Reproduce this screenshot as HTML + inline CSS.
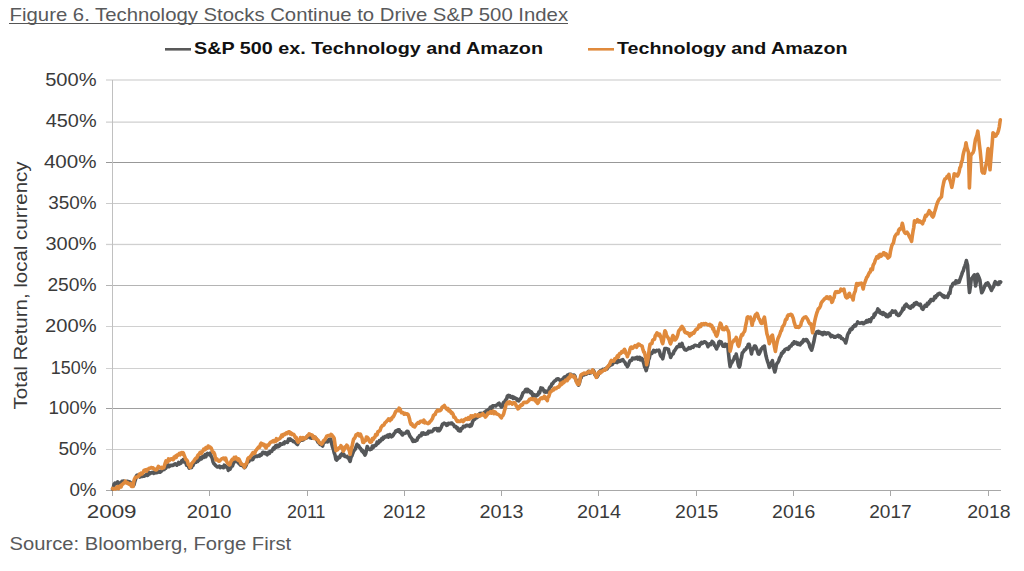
<!DOCTYPE html>
<html><head><meta charset="utf-8"><style>
html,body{margin:0;padding:0;background:#fff;}
svg{display:block;}
text{font-family:'Liberation Sans', sans-serif;}
</style></head><body>
<svg width="1024" height="571" viewBox="0 0 1024 571">
<rect width="1024" height="571" fill="#fff"/>
<text x="9.6" y="21" font-size="17.9" fill="#58595b" textLength="558.5" lengthAdjust="spacingAndGlyphs">Figure 6. Technology Stocks Continue to Drive S&amp;P 500 Index</text>
<rect x="9" y="23" width="559" height="1" fill="#555"/>
<rect x="165" y="48" width="26" height="2.6" fill="#595959"/>
<text x="194" y="54.3" font-size="16.3" font-weight="bold" fill="#111" textLength="349" lengthAdjust="spacingAndGlyphs">S&amp;P 500 ex. Technology and Amazon</text>
<rect x="588" y="48" width="26" height="2.6" fill="#e08a3c"/>
<text x="617" y="54.3" font-size="16.3" font-weight="bold" fill="#111" textLength="230.4" lengthAdjust="spacingAndGlyphs">Technology and Amazon</text>
<rect x="106" y="79.5" width="895" height="1" fill="#c8c8c8"/>
<rect x="106" y="121.6" width="895" height="1" fill="#c4c4c4"/>
<rect x="106" y="162" width="895" height="1" fill="#989898"/>
<rect x="106" y="203" width="895" height="1" fill="#cbcbcb"/>
<rect x="106" y="243.8" width="895" height="1.3" fill="#d0d0d0"/>
<rect x="106" y="285" width="895" height="1" fill="#b4b4b4"/>
<rect x="106" y="326" width="895" height="1" fill="#d0d0d0"/>
<rect x="106" y="368" width="895" height="1" fill="#d0d0d0"/>
<rect x="106" y="408" width="895" height="1" fill="#9e9e9e"/>
<rect x="106" y="449" width="895" height="1" fill="#cecece"/>
<rect x="106" y="490" width="895" height="1" fill="#a8a8a8"/>
<rect x="112" y="80" width="1" height="416" fill="#c0c0c0"/>
<rect x="112" y="490" width="1" height="6" fill="#a8a8a8"/>
<rect x="209" y="490" width="1" height="6" fill="#a8a8a8"/>
<rect x="307" y="490" width="1" height="6" fill="#a8a8a8"/>
<rect x="404" y="490" width="1" height="6" fill="#a8a8a8"/>
<rect x="501" y="490" width="1" height="6" fill="#a8a8a8"/>
<rect x="598" y="490" width="1" height="6" fill="#a8a8a8"/>
<rect x="696" y="490" width="1" height="6" fill="#a8a8a8"/>
<rect x="793" y="490" width="1" height="6" fill="#a8a8a8"/>
<rect x="890" y="490" width="1" height="6" fill="#a8a8a8"/>
<rect x="988" y="490" width="1" height="6" fill="#a8a8a8"/>
<g font-size="17.9" fill="#3a3a3a">
<text x="96.6" y="86.3" text-anchor="end" textLength="51.4" lengthAdjust="spacingAndGlyphs">500%</text>
<text x="96.6" y="127.3" text-anchor="end" textLength="50.9" lengthAdjust="spacingAndGlyphs">450%</text>
<text x="96.6" y="168.3" text-anchor="end" textLength="52.7" lengthAdjust="spacingAndGlyphs">400%</text>
<text x="96.6" y="209.3" text-anchor="end" textLength="48.4" lengthAdjust="spacingAndGlyphs">350%</text>
<text x="96.6" y="250.3" text-anchor="end" textLength="51.1" lengthAdjust="spacingAndGlyphs">300%</text>
<text x="96.6" y="291.3" text-anchor="end" textLength="49.2" lengthAdjust="spacingAndGlyphs">250%</text>
<text x="96.6" y="332.3" text-anchor="end" textLength="51.5" lengthAdjust="spacingAndGlyphs">200%</text>
<text x="96.6" y="374.3" text-anchor="end" textLength="45.8" lengthAdjust="spacingAndGlyphs">150%</text>
<text x="96.6" y="414.3" text-anchor="end" textLength="48.2" lengthAdjust="spacingAndGlyphs">100%</text>
<text x="96.6" y="455.3" text-anchor="end" textLength="38.2" lengthAdjust="spacingAndGlyphs">50%</text>
<text x="96.6" y="496.3" text-anchor="end" textLength="27.2" lengthAdjust="spacingAndGlyphs">0%</text>
</g>
<g font-size="17.9" fill="#3a3a3a">
<text x="86.7" y="518.2" textLength="49.9" lengthAdjust="spacingAndGlyphs">2009</text>
<text x="186.7" y="518.2" textLength="44.9" lengthAdjust="spacingAndGlyphs">2010</text>
<text x="287.1" y="518.2" textLength="38.4" lengthAdjust="spacingAndGlyphs">2011</text>
<text x="383.1" y="518.2" textLength="42.7" lengthAdjust="spacingAndGlyphs">2012</text>
<text x="479.6" y="518.2" textLength="44.0" lengthAdjust="spacingAndGlyphs">2013</text>
<text x="577.1" y="518.2" textLength="44.0" lengthAdjust="spacingAndGlyphs">2014</text>
<text x="675.1" y="518.2" textLength="43.2" lengthAdjust="spacingAndGlyphs">2015</text>
<text x="772.1" y="518.2" textLength="43.2" lengthAdjust="spacingAndGlyphs">2016</text>
<text x="869.2" y="518.2" textLength="42.5" lengthAdjust="spacingAndGlyphs">2017</text>
<text x="967.2" y="518.2" textLength="43.4" lengthAdjust="spacingAndGlyphs">2018</text>
</g>
<text transform="translate(27,285.4) rotate(-90)" x="0" y="0" text-anchor="middle" font-size="17.8" fill="#3a3a3a" textLength="248" lengthAdjust="spacingAndGlyphs">Total Return, local currency</text>
<text x="9.6" y="549.8" font-size="18" fill="#58595b" textLength="281.5" lengthAdjust="spacingAndGlyphs">Source: Bloomberg, Forge First</text>
<polyline fill="none" stroke="#555759" stroke-width="3.6" stroke-linejoin="round" stroke-linecap="round" points="112.6,489.2 113.3,487.9 114.0,484.3 114.8,483.2 115.5,483.9 116.5,482.9 117.5,481.9 118.5,482.5 119.4,484.8 120.2,484.0 121.1,483.2 122.0,481.4 122.8,481.3 123.7,481.0 124.5,481.6 125.3,482.0 126.2,481.7 127.0,481.2 127.9,481.6 128.8,481.8 129.6,481.8 130.4,482.6 131.3,484.7 132.2,485.2 133.0,486.2 133.9,485.0 134.8,481.6 135.6,479.2 136.5,475.8 137.2,475.1 137.9,475.7 138.6,475.0 139.3,475.8 140.0,477.0 140.8,476.1 141.5,474.7 142.2,476.5 142.9,476.1 143.7,475.8 144.4,476.1 145.2,475.5 145.9,475.4 146.7,474.1 147.5,475.4 148.2,475.0 149.0,472.5 149.8,473.7 150.6,473.4 151.3,472.6 152.1,472.6 152.8,472.4 153.6,473.4 154.3,472.1 155.1,472.8 155.8,471.4 156.7,472.6 157.6,472.5 158.4,471.3 159.2,471.4 160.0,472.2 160.8,471.6 161.6,470.9 162.4,470.1 163.3,469.4 164.1,469.5 165.0,467.1 165.8,468.2 166.7,465.7 167.5,466.6 168.4,465.0 169.2,466.6 170.1,465.9 170.9,465.4 171.8,465.3 172.7,465.5 173.5,465.1 174.3,464.2 175.2,463.7 176.1,464.3 176.9,465.2 177.8,464.1 178.6,462.5 179.4,464.0 180.1,463.3 180.9,463.3 181.7,460.9 182.4,461.9 183.2,459.7 184.0,462.0 184.9,461.9 185.8,462.6 186.6,465.2 187.4,464.2 188.3,466.3 189.2,468.1 190.0,467.5 190.8,466.6 191.5,467.5 192.3,465.5 193.0,465.5 193.8,462.9 194.5,462.9 195.3,461.6 196.0,462.1 196.8,459.7 197.6,461.5 198.3,458.7 199.1,460.1 199.9,457.8 200.6,457.9 201.4,458.9 202.2,456.8 202.9,456.4 203.7,457.3 204.4,456.1 205.2,454.7 205.9,456.8 206.7,454.2 207.4,453.4 208.2,453.8 208.9,454.5 209.6,454.8 210.3,453.2 211.2,456.4 212.2,458.2 213.1,462.0 213.9,463.6 214.7,464.3 215.5,465.5 216.3,466.0 217.1,467.0 217.9,466.9 218.6,466.6 219.4,466.2 220.2,467.7 220.9,467.0 221.7,466.8 222.5,467.1 223.4,467.7 224.2,465.2 225.1,465.8 225.9,466.2 226.7,467.4 227.5,467.4 228.3,470.4 229.1,469.5 229.9,469.3 230.8,467.6 231.7,465.5 232.5,465.8 233.3,463.5 234.2,462.1 235.1,460.9 235.9,460.1 236.6,460.2 237.4,461.9 238.1,461.8 238.8,463.4 239.7,464.1 240.5,465.1 241.3,464.0 242.2,465.5 242.9,465.5 243.7,467.0 244.4,467.6 245.3,466.8 246.2,465.2 247.0,462.8 247.9,461.9 248.8,461.6 249.6,459.7 250.5,459.2 251.3,459.7 252.1,458.4 252.8,459.5 253.6,457.8 254.3,456.9 255.1,456.7 255.8,456.3 256.6,456.0 257.3,456.5 258.1,456.1 258.9,455.4 259.6,456.0 260.4,454.6 261.2,455.2 261.9,454.2 262.7,452.5 263.4,452.2 264.2,452.9 264.9,453.5 265.7,452.6 266.4,454.0 267.2,454.8 267.9,453.2 268.6,452.2 269.4,453.4 270.1,451.6 270.9,451.1 271.7,451.4 272.5,449.8 273.3,448.2 274.1,449.2 274.9,447.2 275.6,445.9 276.4,447.2 277.1,445.3 277.9,445.5 278.6,446.5 279.4,445.8 280.1,443.8 280.9,444.6 281.7,444.2 282.4,444.1 283.2,443.1 284.1,443.7 284.9,441.9 285.8,442.1 286.6,441.9 287.5,442.4 288.5,439.2 289.4,440.1 290.2,438.9 291.0,440.3 291.8,440.1 292.6,440.7 293.4,441.8 294.2,441.8 295.1,442.1 295.9,443.1 296.8,444.0 297.5,444.5 298.3,442.4 299.0,441.7 299.8,440.8 300.7,438.8 301.5,440.2 302.3,440.2 303.1,439.9 304.0,439.0 304.8,438.4 305.6,438.0 306.5,438.1 307.4,436.0 308.2,436.0 309.1,436.1 309.9,437.7 310.8,437.6 311.6,438.2 312.4,438.1 313.2,436.8 314.0,436.8 314.8,437.6 315.7,437.9 316.6,439.4 317.4,441.0 318.3,442.6 319.1,442.7 320.0,444.4 320.9,443.5 321.7,445.2 322.6,446.0 323.4,442.8 324.3,442.6 325.1,440.8 326.0,439.9 326.8,441.8 327.6,441.9 328.4,440.8 329.2,439.3 330.0,439.6 330.8,439.2 331.6,443.6 332.5,446.8 333.4,449.4 334.2,452.8 335.0,455.0 335.9,459.3 336.6,460.1 337.4,459.3 338.1,457.3 338.8,458.1 339.6,457.5 340.5,455.2 341.4,455.7 342.2,453.4 343.1,454.6 343.9,454.4 344.8,456.5 345.6,456.5 346.4,456.8 347.1,456.4 347.9,457.9 348.6,457.6 349.4,459.9 350.1,461.4 351.0,457.3 351.9,455.9 352.7,453.5 353.6,451.1 354.5,450.1 355.3,449.0 356.1,446.7 357.0,444.3 357.9,446.5 358.7,445.7 359.5,447.6 360.4,448.2 361.1,449.6 361.9,451.0 362.6,450.5 363.4,452.7 364.1,453.3 364.9,455.1 365.7,453.6 366.4,450.5 367.2,446.5 368.1,448.0 368.9,449.0 369.8,449.7 370.6,449.4 371.5,449.0 372.4,446.0 373.2,447.6 374.1,446.2 374.9,445.3 375.6,445.5 376.4,444.9 377.1,442.2 377.9,443.5 378.6,442.8 379.4,440.7 380.1,441.4 380.9,440.4 381.7,438.7 382.4,439.6 383.2,437.3 383.9,438.1 384.7,437.3 385.4,436.4 386.2,436.8 386.9,436.2 387.7,435.1 388.5,437.1 389.2,434.8 390.0,434.6 390.8,435.9 391.5,436.8 392.3,436.3 393.1,435.4 394.0,433.6 394.9,432.9 395.7,430.9 396.6,430.6 397.4,431.1 398.2,429.7 399.1,429.7 400.0,432.3 400.8,431.7 401.6,434.0 402.5,434.9 403.4,433.4 404.2,433.5 405.1,433.2 406.0,432.8 407.0,431.2 408.0,431.5 408.9,433.8 409.7,435.7 410.5,437.0 411.4,437.9 412.2,439.8 413.0,441.3 413.8,440.2 414.6,441.1 415.4,441.2 416.2,440.2 417.0,440.2 417.8,437.6 418.6,437.3 419.4,435.8 420.2,435.3 421.1,435.7 421.9,433.0 422.8,434.3 423.6,433.0 424.5,433.9 425.4,434.3 426.2,433.9 427.0,432.9 427.7,433.7 428.5,431.3 429.3,432.4 430.0,431.4 430.8,431.4 431.6,431.8 432.3,431.3 433.1,430.5 433.8,429.3 434.6,428.7 435.3,428.9 436.1,428.5 436.8,428.8 437.6,430.7 438.4,428.7 439.1,430.7 439.9,429.8 440.8,428.2 441.6,426.5 442.4,424.3 443.3,423.7 444.1,423.1 445.0,423.9 445.9,423.7 446.7,425.4 447.6,425.1 448.4,423.4 449.2,423.5 450.1,423.8 451.0,423.0 451.9,423.1 452.7,424.2 453.6,424.8 454.5,426.6 455.3,426.4 456.1,426.9 457.0,428.6 457.7,428.0 458.4,430.4 459.1,430.8 459.8,431.0 460.5,431.0 461.2,428.6 462.0,428.8 462.7,427.8 463.4,426.3 464.2,426.4 464.9,426.7 465.7,425.8 466.4,425.4 467.2,425.4 468.0,425.8 468.8,425.5 469.6,426.4 470.4,424.8 471.2,425.9 471.9,424.3 472.6,421.8 473.4,420.2 474.1,417.9 474.9,419.3 475.6,417.2 476.4,416.9 477.1,417.5 477.9,415.1 478.6,416.5 479.4,413.9 480.1,413.3 480.9,413.8 481.7,413.4 482.4,414.5 483.2,414.0 483.9,413.3 484.7,412.1 485.4,412.0 486.2,410.8 486.9,412.0 487.7,410.5 488.6,409.4 489.4,409.4 490.2,407.3 491.1,406.8 491.9,408.2 492.6,405.9 493.4,405.8 494.2,405.8 494.9,405.7 495.7,406.0 496.6,405.0 497.4,404.6 498.2,403.8 499.1,403.2 499.9,405.3 500.6,405.7 501.4,407.0 502.2,406.6 503.1,403.3 503.9,402.1 504.8,402.5 505.6,399.9 506.5,399.2 507.4,396.0 508.2,395.5 509.0,396.6 509.8,395.6 510.6,397.1 511.4,397.0 512.2,396.7 513.1,398.5 513.9,397.2 514.8,397.7 515.6,398.7 516.4,398.5 517.2,400.4 518.0,400.4 518.8,400.9 519.6,399.3 520.4,399.0 521.2,397.5 522.0,395.7 522.8,393.2 523.6,392.3 524.5,391.9 525.4,389.9 526.2,389.4 527.1,391.7 527.9,389.4 528.8,391.5 529.6,390.9 530.5,392.8 531.4,391.9 532.2,393.8 533.1,396.4 534.0,394.6 534.8,395.1 535.6,396.0 536.5,395.9 537.3,394.6 538.0,394.9 538.8,392.2 539.5,393.1 540.2,390.8 540.9,387.9 541.6,388.6 542.5,388.3 543.5,390.2 544.4,391.8 545.1,390.9 545.8,392.2 546.6,391.3 547.3,391.9 548.0,392.2 548.7,390.4 549.4,388.0 550.1,386.9 551.0,386.5 551.9,383.8 552.7,383.8 553.6,382.0 554.4,381.3 555.1,380.6 555.9,380.3 556.6,379.2 557.4,378.9 558.1,378.7 559.0,379.5 559.8,380.2 560.6,380.5 561.5,380.2 562.4,379.2 563.2,379.8 564.0,377.4 564.9,376.9 565.7,378.2 566.4,377.1 567.2,375.4 568.0,375.3 568.7,374.5 569.5,374.3 570.3,374.4 571.0,374.4 571.8,375.6 572.6,375.7 573.3,375.2 574.1,375.0 574.9,376.1 575.6,379.0 576.4,381.2 577.1,380.8 577.9,383.6 578.6,385.2 579.5,382.8 580.3,378.9 581.1,377.9 582.0,374.7 582.8,374.3 583.6,374.9 584.4,374.7 585.3,374.3 586.1,374.2 586.9,373.7 587.7,372.7 588.5,371.4 589.3,373.1 590.1,373.0 591.0,372.8 591.8,371.9 592.6,370.2 593.4,370.4 594.1,371.6 594.8,374.5 595.6,375.7 596.3,376.2 597.0,377.0 597.7,375.9 598.4,374.5 599.1,372.2 599.9,371.3 600.6,370.6 601.4,371.7 602.2,370.9 602.9,369.3 603.7,370.4 604.6,369.3 605.4,368.6 606.2,368.3 607.1,368.8 608.0,366.7 608.9,366.5 609.7,364.4 610.5,365.2 611.4,363.4 612.2,364.6 613.1,362.4 613.9,362.3 614.8,362.4 615.6,361.7 616.3,361.8 617.1,362.6 617.9,360.4 618.6,361.6 619.4,361.1 620.2,361.2 621.1,360.2 621.9,360.0 622.8,359.6 623.6,361.1 624.3,361.6 625.1,362.6 625.9,364.5 626.6,364.9 627.4,366.7 628.2,365.3 629.1,362.9 629.9,360.8 630.8,360.3 631.6,360.4 632.5,358.1 633.4,358.6 634.2,358.1 635.0,358.8 635.7,358.4 636.5,357.5 637.3,357.3 638.0,359.1 638.8,357.8 639.6,357.3 640.5,359.8 641.4,358.3 642.2,358.9 643.0,361.2 643.8,363.3 644.6,366.8 645.4,368.1 646.2,370.6 647.0,367.4 647.8,365.3 648.5,360.0 649.3,358.3 650.1,353.9 651.0,353.1 651.9,353.4 652.7,352.0 653.6,350.3 654.4,351.3 655.1,351.9 655.9,350.9 656.6,350.3 657.4,350.8 658.1,350.8 658.9,350.2 659.6,352.0 660.4,355.2 661.2,356.5 661.9,356.1 662.7,358.8 663.4,355.8 664.2,351.7 664.9,348.5 665.8,348.6 666.6,348.5 667.5,349.0 668.4,349.2 669.1,353.0 669.9,353.9 670.6,357.4 671.5,355.4 672.4,354.1 673.2,354.0 674.1,351.1 674.9,350.4 675.6,349.2 676.4,347.9 677.1,346.9 677.9,346.8 678.6,346.6 679.5,344.4 680.3,346.4 681.1,345.4 682.0,343.4 682.9,346.7 683.7,347.5 684.5,349.4 685.4,349.9 686.3,350.1 687.1,349.3 688.0,349.1 688.9,347.7 689.8,348.2 690.6,348.4 691.4,347.1 692.3,346.8 693.1,347.4 694.0,345.9 694.9,345.4 695.7,345.3 696.6,345.7 697.4,345.8 698.2,345.7 699.1,346.4 700.0,343.6 700.8,344.2 701.6,342.4 702.5,343.3 703.4,342.6 704.2,341.7 705.1,342.0 706.0,342.7 707.0,343.8 708.0,346.7 708.8,344.5 709.6,343.9 710.5,344.7 711.3,343.3 712.1,341.4 712.9,342.5 713.6,342.7 714.4,345.4 715.1,345.8 715.9,347.5 716.6,348.9 717.4,346.4 718.1,346.1 718.9,342.1 719.6,341.4 720.5,343.4 721.3,342.0 722.2,344.5 723.0,346.1 723.9,346.1 724.6,346.3 725.4,344.1 726.1,345.2 726.9,345.2 727.6,344.6 728.4,352.2 729.3,360.7 730.1,366.6 730.9,363.9 731.7,362.9 732.5,361.4 733.2,360.1 734.0,358.7 734.7,356.7 735.5,357.3 736.2,354.1 737.0,357.7 737.8,362.1 738.5,365.5 739.3,367.2 740.0,365.2 740.8,359.7 741.5,357.6 742.3,352.9 743.0,352.3 743.8,351.2 744.5,349.8 745.3,349.8 746.0,349.1 746.8,347.3 747.5,347.0 748.3,344.3 749.1,344.2 749.9,347.1 750.7,349.7 751.5,353.9 752.2,350.2 753.0,349.4 753.7,347.9 754.5,346.1 755.2,346.0 756.0,347.3 756.8,349.4 757.5,351.5 758.3,353.8 759.0,354.1 759.8,352.6 760.5,351.1 761.3,348.7 762.0,348.7 762.8,347.1 763.6,347.3 764.4,346.1 765.2,351.7 766.1,356.3 766.9,359.3 767.7,361.9 768.5,364.0 769.3,367.4 770.1,365.9 770.8,364.2 771.6,362.3 772.4,360.7 773.2,365.3 774.0,369.1 774.8,372.0 775.6,369.1 776.3,365.1 777.1,363.3 777.9,362.3 778.6,361.1 779.4,358.6 780.1,357.1 780.9,356.0 781.6,353.3 782.3,353.6 783.1,351.7 783.8,352.0 784.6,350.0 785.3,349.5 786.0,349.0 786.7,348.7 787.5,348.3 788.2,349.3 788.9,348.6 789.6,346.7 790.4,346.0 791.1,346.0 791.9,344.6 792.6,343.4 793.3,344.1 794.1,341.8 794.8,342.9 795.6,342.8 796.3,342.3 797.0,344.0 797.8,344.3 798.5,343.2 799.3,344.1 800.0,344.9 800.7,344.0 801.4,342.4 802.2,342.8 802.9,340.9 803.6,339.7 804.3,340.8 805.1,340.5 805.8,339.6 806.6,339.6 807.3,340.6 808.2,342.3 809.0,343.5 809.9,347.0 810.7,348.4 811.6,350.2 812.4,347.5 813.1,344.5 813.9,341.5 814.6,337.6 815.4,334.2 816.1,333.2 816.8,331.9 817.6,332.6 818.3,331.4 819.0,333.1 819.7,332.0 820.5,333.0 821.2,333.7 822.0,332.6 822.7,334.7 823.4,333.2 824.2,332.3 824.9,333.5 825.7,332.8 826.4,334.0 827.2,333.3 828.0,332.9 828.8,333.2 829.5,333.8 830.3,335.5 831.1,336.6 831.9,335.4 832.7,336.0 833.5,336.3 834.3,337.2 835.0,337.3 835.8,336.9 836.6,336.2 837.4,335.9 838.2,335.4 839.0,336.8 839.8,336.0 840.6,336.7 841.4,338.5 842.2,338.2 843.0,339.0 843.9,339.8 844.8,340.9 845.7,343.0 846.6,339.5 847.6,335.0 848.5,332.9 849.3,332.5 850.1,329.6 850.9,328.9 851.6,329.6 852.4,328.6 853.2,326.5 854.0,326.6 854.7,325.0 855.5,325.9 856.2,324.5 857.0,323.5 857.7,321.9 858.6,322.8 859.5,323.2 860.4,323.1 861.3,322.9 862.0,322.5 862.8,323.5 863.5,323.7 864.3,323.1 865.0,322.1 865.8,322.4 866.6,320.6 867.4,320.7 868.1,321.8 868.9,319.9 869.7,319.9 870.5,321.6 871.2,319.0 872.0,317.9 872.7,317.3 873.5,317.4 874.2,314.1 874.9,315.3 875.7,312.7 876.4,312.3 877.2,310.9 877.9,308.9 878.6,311.8 879.3,310.4 880.0,312.7 880.8,313.3 881.7,312.6 882.5,314.3 883.3,312.6 884.1,313.5 884.9,315.0 885.6,314.1 886.4,316.3 887.1,315.8 887.9,316.7 888.6,315.6 889.3,314.1 890.1,315.5 890.8,312.9 891.6,312.5 892.3,310.9 893.0,312.2 893.7,312.0 894.5,311.5 895.2,311.2 895.9,312.1 896.7,314.5 897.6,314.1 898.4,315.5 899.1,315.3 899.9,314.1 900.6,313.3 901.4,311.7 902.1,311.0 902.9,308.2 903.8,309.2 904.6,305.9 905.5,305.1 906.3,304.1 907.2,306.2 908.0,305.9 908.9,307.3 909.7,307.9 910.6,308.2 911.3,306.8 912.1,305.6 912.8,306.7 913.6,305.6 914.3,303.7 915.0,304.4 915.8,302.8 916.5,302.5 917.3,303.9 918.0,303.9 918.8,304.9 919.5,305.2 920.3,304.2 921.1,306.4 922.0,308.6 922.9,309.3 923.6,308.0 924.4,306.8 925.1,305.4 925.9,306.2 926.6,306.3 927.3,303.3 928.0,304.3 928.8,303.6 929.5,301.4 930.2,301.8 930.9,299.6 931.7,299.6 932.4,299.9 933.2,300.4 933.9,299.1 934.7,296.7 935.6,297.7 936.4,295.5 937.1,295.8 937.8,294.1 938.6,294.2 939.3,293.3 940.0,293.3 940.7,294.3 941.5,294.6 942.2,295.6 943.0,296.5 943.7,295.6 944.5,297.4 945.2,297.0 946.0,296.5 946.8,296.4 947.6,297.3 948.3,295.5 949.1,292.8 949.9,293.4 950.5,289.5 951.1,286.6 951.9,286.5 952.7,284.0 953.5,283.1 954.3,283.2 955.2,283.6 956.0,280.8 956.8,282.8 957.5,282.5 958.2,281.1 959.0,282.3 960.0,279.4 960.9,276.8 961.7,274.6 962.5,272.1 963.3,270.8 964.1,267.8 964.8,266.1 965.6,263.7 966.4,260.6 967.0,263.1 967.6,265.5 968.8,285.2 969.5,292.5 970.4,286.5 971.3,278.8 972.1,278.6 972.8,277.1 973.6,275.9 974.4,274.8 975.0,281.5 975.6,286.0 976.5,280.9 977.5,274.2 978.3,276.0 979.1,277.7 979.9,280.1 980.8,287.2 981.7,292.8 982.5,291.5 983.4,289.7 984.2,287.7 985.1,285.1 986.0,283.7 986.9,284.8 987.8,282.8 988.5,284.2 989.3,285.4 990.0,287.3 990.8,288.9 991.5,290.5 992.2,288.6 993.0,287.5 993.7,286.4 994.5,283.2 995.2,281.7 996.0,282.5 996.8,284.0 997.6,284.4 998.4,284.5 999.2,282.0 999.9,283.1 1000.7,281.9"/>
<polyline fill="none" stroke="#e08a3c" stroke-width="3.6" stroke-linejoin="round" stroke-linecap="round" points="112.6,488.5 113.4,489.1 114.3,488.5 115.2,488.9 116.0,488.8 116.8,487.1 117.7,486.7 118.6,488.6 119.4,486.9 120.2,485.8 121.1,486.8 122.0,484.4 122.8,484.4 123.7,483.0 124.5,483.0 125.3,481.2 126.2,482.1 127.0,483.2 127.9,482.9 128.8,484.1 129.6,484.4 130.4,483.6 131.3,486.2 132.2,486.5 133.0,486.5 133.8,481.3 134.5,479.0 135.5,477.2 136.5,477.1 137.2,477.0 138.0,476.1 138.8,476.1 139.5,474.2 140.4,474.7 141.2,473.1 142.1,473.8 143.0,473.0 143.9,470.5 144.8,470.1 145.6,469.8 146.5,471.2 147.4,469.4 148.2,469.5 149.1,468.2 150.0,468.3 150.8,467.8 151.5,467.5 152.2,467.9 153.0,467.7 153.8,468.9 154.5,468.7 155.2,469.7 156.0,469.9 156.8,469.7 157.6,468.2 158.4,466.3 159.2,467.5 160.0,467.2 160.8,467.7 161.5,467.4 162.2,468.4 163.0,467.7 163.8,467.7 164.5,465.4 165.2,463.1 166.0,460.9 166.8,462.3 167.7,461.9 168.5,458.9 169.3,460.7 170.2,459.5 171.0,458.7 171.8,459.0 172.6,459.7 173.3,459.6 174.1,457.0 174.8,458.0 175.6,456.1 176.3,457.4 177.1,455.2 177.8,455.5 178.6,454.5 179.4,453.4 180.1,454.8 180.9,453.1 181.7,452.6 182.4,454.1 183.2,452.7 184.0,454.8 184.9,457.1 185.8,459.4 186.6,459.9 187.4,461.0 188.3,464.6 189.2,464.5 190.0,467.6 190.8,466.3 191.5,463.8 192.3,462.9 193.1,461.9 193.8,461.1 194.6,459.8 195.3,458.8 196.1,458.0 196.8,457.9 197.6,455.8 198.3,454.7 199.1,454.5 199.9,452.7 200.6,452.2 201.4,453.4 202.2,451.7 202.9,451.2 203.7,449.2 204.4,449.7 205.2,449.6 205.9,447.6 206.7,448.5 207.4,448.0 208.2,446.0 208.9,447.3 209.6,446.8 210.3,447.3 211.2,448.1 212.2,450.7 213.1,452.5 213.8,452.4 214.6,454.2 215.3,457.5 216.0,459.9 216.8,458.8 217.7,460.0 218.6,461.1 219.4,461.1 220.2,460.4 221.1,459.4 222.0,458.7 222.8,458.4 223.5,458.0 224.2,458.4 225.0,459.7 225.7,458.1 226.5,461.1 227.4,463.1 228.2,463.5 229.1,464.9 229.9,464.8 230.8,461.8 231.7,460.1 232.5,459.1 233.3,459.4 234.2,457.4 235.1,457.6 235.9,457.2 236.6,459.0 237.4,458.6 238.1,460.2 238.8,459.0 239.7,460.6 240.5,462.5 241.3,464.3 242.2,464.3 242.9,464.7 243.7,465.3 244.4,467.4 245.3,464.5 246.2,464.1 247.0,462.2 247.9,458.5 248.8,457.6 249.6,457.8 250.5,456.2 251.3,455.5 252.2,453.7 253.0,452.6 253.8,452.5 254.7,453.3 255.6,450.8 256.4,449.8 257.2,448.8 258.1,447.7 258.9,446.8 259.6,447.3 260.4,444.5 261.2,443.2 261.9,444.8 262.7,443.8 263.6,445.1 264.4,444.6 265.2,447.0 266.1,447.9 266.9,445.3 267.7,445.8 268.5,445.3 269.3,444.0 270.1,442.8 270.9,442.0 271.7,441.9 272.5,441.4 273.3,440.7 274.1,441.8 274.9,440.5 275.6,441.3 276.4,438.7 277.1,440.4 277.9,439.3 278.6,439.3 279.4,438.8 280.1,438.3 280.9,437.0 281.7,435.1 282.4,436.5 283.2,434.5 283.9,434.3 284.7,434.7 285.4,433.8 286.2,432.9 286.9,433.7 287.7,432.3 288.6,431.9 289.4,431.9 290.2,433.8 291.1,433.0 292.0,434.5 292.9,434.1 293.7,434.4 294.6,436.0 295.5,438.0 296.3,437.6 297.1,440.6 298.0,442.2 298.9,441.2 299.7,440.5 300.5,437.6 301.4,438.5 302.2,439.4 303.1,437.6 303.9,438.5 304.8,438.8 305.6,438.3 306.5,436.9 307.4,435.9 308.2,435.5 309.1,433.8 309.9,434.2 310.8,434.7 311.6,434.9 312.5,435.4 313.4,438.3 314.2,438.5 315.1,437.1 315.9,438.9 316.7,439.1 317.5,439.8 318.3,440.6 319.1,442.4 320.0,443.2 320.9,443.6 321.7,444.2 322.6,443.0 323.4,440.9 324.2,440.4 325.1,439.3 326.0,437.7 326.8,436.2 327.6,435.8 328.5,435.6 329.4,435.7 330.2,435.8 331.0,434.3 331.9,435.0 332.7,436.0 333.4,437.0 334.2,438.4 335.0,444.4 335.9,450.6 336.7,449.5 337.4,449.9 338.2,448.9 338.9,447.8 339.6,447.9 340.3,447.8 341.0,445.6 341.8,447.6 342.5,448.8 343.3,451.1 344.1,449.8 345.0,446.9 345.9,446.9 346.7,445.2 347.6,446.1 348.4,448.9 349.2,450.2 350.1,454.3 351.0,450.2 351.9,447.1 352.7,443.2 353.6,439.1 354.5,438.3 355.3,436.9 356.1,434.7 357.0,434.9 357.9,433.6 358.7,434.1 359.5,435.9 360.4,434.1 361.2,436.2 362.1,438.3 362.9,442.3 363.8,442.5 364.6,440.3 365.5,440.7 366.4,437.1 367.2,437.3 368.1,438.3 368.9,440.1 369.8,441.9 370.6,442.3 371.5,441.8 372.4,438.6 373.2,439.4 374.1,437.6 374.9,437.2 375.6,434.7 376.4,435.4 377.1,434.9 377.9,431.7 378.6,431.4 379.4,430.9 380.1,430.5 380.9,427.8 381.7,426.5 382.4,425.6 383.2,425.4 383.9,425.0 384.7,423.3 385.4,422.5 386.2,421.8 386.9,420.9 387.7,420.3 388.5,419.0 389.2,419.7 390.0,420.6 390.8,418.7 391.5,419.2 392.3,417.3 393.1,417.0 394.0,415.5 394.9,413.6 395.7,411.4 396.6,410.8 397.4,410.6 398.2,410.7 399.1,408.2 400.0,408.9 400.8,411.4 401.6,412.7 402.5,412.5 403.4,412.9 404.2,414.2 405.1,413.4 406.0,414.2 407.0,413.7 408.0,414.4 408.8,416.4 409.5,418.8 410.3,422.6 411.1,424.4 412.0,423.9 412.9,426.1 413.7,426.5 414.6,427.0 415.4,425.8 416.2,424.4 417.1,423.7 418.0,422.6 418.8,423.2 419.6,422.4 420.5,421.2 421.4,421.5 422.2,421.1 423.0,422.0 423.9,420.1 424.8,422.9 425.6,422.1 426.5,423.0 427.4,423.2 428.2,423.6 429.1,423.0 429.9,421.7 430.8,421.0 431.6,419.9 432.5,418.5 433.4,415.6 434.2,414.8 435.1,414.5 435.9,412.4 436.8,410.9 437.6,410.1 438.5,410.9 439.3,410.4 440.1,410.6 441.0,409.9 441.9,407.6 442.7,406.8 443.5,406.3 444.4,405.4 445.3,407.4 446.1,408.5 447.0,409.3 447.9,408.4 448.8,410.8 449.6,410.3 450.4,411.4 451.3,413.1 452.1,412.7 453.0,414.0 453.9,417.2 454.7,417.1 455.6,418.4 456.4,420.1 457.2,421.4 458.1,420.8 459.0,421.4 459.8,421.4 460.6,421.2 461.5,420.2 462.4,420.9 463.2,421.6 464.0,419.9 464.9,420.0 465.8,418.6 466.6,418.7 467.5,419.4 468.4,417.7 469.2,419.1 470.1,418.6 470.9,415.9 471.8,417.5 472.6,415.8 473.5,416.6 474.4,416.2 475.2,414.8 476.1,415.8 476.9,415.7 477.8,416.1 478.6,414.7 479.5,415.7 480.3,415.9 481.1,414.9 482.0,414.3 482.9,413.7 483.7,415.3 484.5,415.5 485.4,417.0 486.3,416.0 487.1,414.9 488.0,413.0 488.9,413.4 489.8,413.1 490.6,411.6 491.4,413.2 492.3,412.3 493.1,411.2 494.0,413.6 494.9,411.8 495.7,412.6 496.6,414.0 497.4,414.1 498.2,414.4 499.1,415.1 499.9,415.9 500.6,416.9 501.4,417.9 502.2,415.7 502.9,415.5 503.7,413.7 504.5,410.5 505.2,408.4 506.0,404.7 507.0,403.1 508.0,402.1 508.9,403.6 509.7,401.8 510.5,403.2 511.4,402.8 512.2,404.1 513.1,402.9 513.9,402.7 514.8,402.7 515.6,404.3 516.4,406.2 517.2,406.3 518.0,408.9 518.8,408.2 519.5,407.5 520.2,405.9 521.0,404.8 521.7,405.4 522.6,404.7 523.4,402.7 524.2,402.2 525.1,402.2 526.0,402.6 526.8,402.4 527.6,401.8 528.5,400.9 529.4,399.4 530.2,399.6 531.0,398.6 531.9,399.1 532.8,399.5 533.6,398.8 534.4,399.2 535.3,400.8 536.1,399.6 536.8,402.4 537.6,403.4 538.5,402.4 539.3,399.8 540.1,399.1 541.0,398.0 541.9,397.9 542.7,398.5 543.5,397.5 544.4,396.2 545.1,398.5 545.8,398.4 546.6,399.5 547.3,400.7 548.0,396.8 548.7,396.8 549.4,394.5 550.1,392.1 551.0,391.6 551.9,390.9 552.7,389.7 553.6,390.0 554.5,388.1 555.3,388.8 556.1,388.6 557.0,387.5 557.9,386.9 558.7,387.1 559.5,386.1 560.4,383.3 561.2,384.7 562.1,383.9 562.9,382.1 563.8,382.6 564.6,381.5 565.5,380.2 566.4,380.6 567.2,380.7 568.1,378.1 568.9,378.6 569.8,377.1 570.6,374.6 571.5,376.5 572.4,375.9 573.2,376.7 574.1,376.2 574.8,378.0 575.6,378.7 576.3,381.6 577.1,383.2 577.8,384.3 578.6,384.5 579.4,382.5 580.1,379.0 580.9,375.2 581.8,374.4 582.6,374.0 583.4,373.7 584.3,373.0 585.1,373.5 586.0,373.6 586.9,372.7 587.7,372.0 588.6,372.4 589.4,371.4 590.2,371.7 591.1,372.3 591.9,371.0 592.6,370.0 593.4,371.5 594.1,372.8 594.8,373.6 595.6,375.3 596.3,377.4 597.0,376.4 597.7,374.3 598.4,372.6 599.1,372.0 600.0,373.2 600.8,371.3 601.6,371.8 602.5,370.8 603.4,370.4 604.2,369.9 605.1,370.1 606.0,369.0 607.0,367.4 608.0,366.4 608.9,365.1 609.7,364.5 610.5,362.0 611.4,360.5 612.2,361.1 613.1,360.6 613.9,361.0 614.8,358.8 615.7,358.7 616.5,357.7 617.4,355.8 618.3,357.2 619.1,354.4 620.0,353.2 620.9,353.4 621.7,351.7 622.6,352.2 623.6,350.7 624.5,349.3 625.2,350.6 626.0,353.7 626.7,354.0 627.4,356.7 628.2,353.9 629.1,353.1 629.9,349.5 630.8,347.3 631.6,347.1 632.5,348.3 633.4,347.5 634.2,346.5 635.0,345.6 635.7,346.8 636.5,347.3 637.3,346.0 638.0,344.2 638.8,344.0 639.6,344.7 640.5,345.5 641.4,345.7 642.2,346.3 643.0,349.8 643.8,352.3 644.5,352.3 645.3,356.2 646.0,359.4 646.6,364.8 647.5,361.1 648.3,357.1 649.2,349.1 650.1,344.1 651.0,343.8 651.9,343.5 652.7,340.2 653.6,339.6 654.5,339.3 655.3,335.6 656.1,334.6 657.0,332.8 657.9,334.2 658.7,335.5 659.5,334.1 660.4,336.1 661.2,338.8 661.9,341.7 662.7,343.6 663.4,340.4 664.2,334.8 664.9,330.8 665.8,332.3 666.6,335.7 667.5,336.9 668.4,338.3 669.1,339.6 669.9,342.5 670.6,343.8 671.4,341.4 672.1,337.9 672.9,335.5 673.7,336.5 674.4,339.8 675.2,340.0 676.1,338.8 676.9,337.3 677.8,334.8 678.6,331.1 679.5,329.7 680.3,329.6 681.1,327.4 682.0,326.3 682.9,328.0 683.7,328.6 684.5,331.4 685.4,332.7 686.3,332.4 687.1,333.2 688.0,333.1 688.9,334.6 689.8,336.0 690.6,333.6 691.4,334.7 692.3,333.4 693.1,332.5 694.0,333.1 694.9,331.2 695.7,329.8 696.6,328.9 697.4,329.1 698.2,327.8 699.1,325.1 700.0,325.1 700.8,326.5 701.6,323.9 702.5,324.3 703.4,323.6 704.2,324.3 705.1,323.5 706.0,323.8 707.0,324.5 708.0,325.0 708.8,324.8 709.7,324.3 710.5,326.0 711.2,325.1 712.0,325.8 712.8,329.2 713.5,328.1 714.3,331.9 715.0,331.8 715.8,334.8 716.6,336.2 717.3,334.8 718.1,331.3 718.8,328.4 719.6,325.8 720.3,323.2 721.1,324.2 721.9,327.3 722.7,329.4 723.4,328.1 724.2,329.7 724.9,328.7 725.7,328.9 726.4,326.9 727.2,329.2 728.0,330.5 728.8,332.6 729.5,340.7 730.1,351.2 730.9,348.3 731.7,344.0 732.5,341.9 733.2,341.7 734.0,340.1 734.7,340.0 735.5,339.1 736.2,337.4 737.0,340.6 737.9,345.1 738.7,346.3 739.5,343.3 740.3,339.1 741.1,336.2 741.8,334.5 742.6,335.1 743.3,333.0 744.1,332.0 744.8,330.8 745.6,325.7 746.4,322.5 747.2,317.4 748.0,316.8 748.8,317.8 749.5,317.4 750.3,317.2 751.2,320.3 752.1,325.3 752.9,321.5 753.8,320.2 754.6,317.1 755.4,314.9 756.2,315.9 757.0,313.4 757.8,315.0 758.7,318.4 759.5,319.2 760.3,321.4 761.2,323.3 762.0,323.4 762.8,322.8 763.6,319.2 764.4,317.1 765.2,322.2 766.1,328.5 766.9,333.8 767.7,336.3 768.5,339.5 769.3,343.7 770.1,341.5 770.8,338.2 771.6,335.9 772.4,335.1 773.1,338.9 773.9,343.6 774.6,347.6 775.4,351.4 776.2,346.4 777.1,342.1 777.9,338.8 778.6,337.2 779.4,335.4 780.1,333.5 780.9,331.1 781.6,330.4 782.3,327.2 783.1,326.0 783.8,325.3 784.6,323.4 785.3,320.4 786.0,319.0 786.7,319.3 787.5,316.0 788.2,315.1 788.9,314.9 789.6,315.1 790.4,314.4 791.1,314.4 791.9,315.0 792.6,316.7 793.3,318.4 794.1,322.2 794.8,324.1 795.6,327.1 796.3,327.1 797.0,327.2 797.8,326.6 798.5,327.4 799.3,326.9 800.0,325.9 800.7,325.3 801.4,322.1 802.2,320.7 802.9,318.6 803.6,318.1 804.3,317.3 805.1,317.2 805.8,316.8 806.6,318.1 807.3,318.8 808.2,320.5 809.0,322.6 809.9,323.9 810.8,323.9 811.7,327.4 812.6,332.7 813.5,327.8 814.5,322.2 815.4,318.1 816.1,315.5 816.8,313.0 817.6,310.9 818.3,308.7 819.0,308.5 819.7,307.5 820.5,305.8 821.2,303.0 822.0,301.9 822.7,300.9 823.4,300.2 824.2,299.3 824.9,298.4 825.7,298.3 826.4,297.0 827.1,296.9 827.9,298.0 828.6,298.6 829.4,297.3 830.1,296.8 831.0,299.4 831.9,302.4 832.6,301.3 833.4,298.3 834.1,297.6 834.9,293.5 835.6,291.9 836.4,292.2 837.1,291.6 837.9,292.4 838.7,292.1 839.4,292.0 840.2,290.9 840.9,289.2 841.7,290.4 842.4,290.2 843.2,289.8 843.9,289.1 844.8,293.3 845.7,296.9 846.6,297.9 847.5,297.5 848.5,294.8 849.4,293.3 850.1,295.4 850.9,296.7 851.6,297.0 852.4,297.0 853.1,300.0 853.8,295.1 854.5,292.7 855.3,290.9 856.0,286.6 856.7,283.5 857.5,285.3 858.2,285.3 859.0,283.6 859.8,283.8 860.5,283.5 861.3,283.1 862.2,285.3 863.2,289.0 864.1,284.3 865.0,282.2 865.9,279.7 866.6,277.6 867.3,276.9 868.0,275.6 868.7,274.0 869.4,272.5 870.2,272.1 870.9,269.1 871.7,268.9 872.4,269.7 873.1,265.4 873.9,263.9 874.6,262.4 875.4,259.8 876.1,258.5 876.8,256.7 877.5,256.6 878.3,257.9 879.0,255.2 879.7,256.7 880.4,254.4 881.2,256.2 881.9,255.0 882.7,254.5 883.4,252.9 884.1,252.9 884.8,254.9 885.5,253.6 886.2,253.9 887.1,256.8 888.0,258.1 888.9,257.2 889.7,256.3 890.4,251.9 891.2,248.2 891.9,245.3 892.7,243.8 893.4,243.2 894.2,239.1 894.9,236.5 895.6,235.4 896.4,234.1 897.1,233.5 897.9,233.7 898.6,230.3 899.3,229.1 900.1,229.6 900.8,228.3 901.6,226.7 902.3,223.3 903.1,226.5 903.9,230.9 904.7,232.6 905.4,233.4 906.2,232.6 906.9,232.1 907.7,233.2 908.4,234.4 909.2,236.4 910.0,237.7 910.8,239.3 911.6,241.3 912.3,236.1 913.0,231.4 913.8,227.3 914.5,220.7 915.2,221.5 916.0,222.1 916.7,221.7 917.5,219.7 918.2,221.5 918.9,221.9 919.7,220.9 920.4,221.9 921.2,222.5 921.9,222.8 922.6,223.8 923.4,220.8 924.1,220.5 924.9,217.1 925.6,215.3 926.3,216.3 927.0,214.9 927.8,214.2 928.5,212.2 929.2,210.6 929.9,212.7 930.7,212.4 931.4,215.0 932.2,216.3 932.9,217.0 933.6,215.7 934.4,212.5 935.1,210.5 935.9,207.7 936.6,205.1 937.4,202.8 938.2,201.0 939.0,199.5 939.8,198.6 940.7,197.6 941.5,196.7 942.5,188.5 943.5,183.5 944.2,180.5 945.0,178.9 945.7,178.6 946.4,178.0 947.2,176.2 948.1,176.2 948.9,174.4 949.6,179.3 950.3,181.0 951.1,184.1 951.8,187.3 952.6,183.7 953.4,179.5 954.2,173.8 955.0,174.2 955.8,175.3 956.6,174.5 957.4,176.0 958.2,174.6 959.1,172.0 959.9,167.7 960.7,166.5 961.5,162.0 962.3,160.3 963.0,155.5 963.8,151.9 964.5,149.6 965.3,147.3 966.0,142.9 966.8,147.3 967.7,150.2 968.5,152.5 969.4,187.9 970.1,172.2 970.8,155.7 971.6,154.2 972.3,153.4 973.1,152.5 973.9,150.2 974.7,144.1 975.5,139.3 976.3,137.0 977.0,135.0 977.8,131.2 978.6,137.5 979.4,144.7 980.2,151.1 981.1,160.3 982.0,171.4 982.8,172.8 983.6,172.2 984.4,173.1 985.2,168.9 986.1,164.4 986.9,160.1 987.5,153.3 988.1,148.5 989.0,157.4 990.0,169.8 990.8,159.6 991.5,151.0 992.2,143.2 993.0,132.7 993.7,133.4 994.5,136.0 995.2,136.3 995.9,135.9 996.7,134.1 997.6,133.3 998.4,130.8 999.3,126.8 1000.3,119.8"/>
</svg>
</body></html>
